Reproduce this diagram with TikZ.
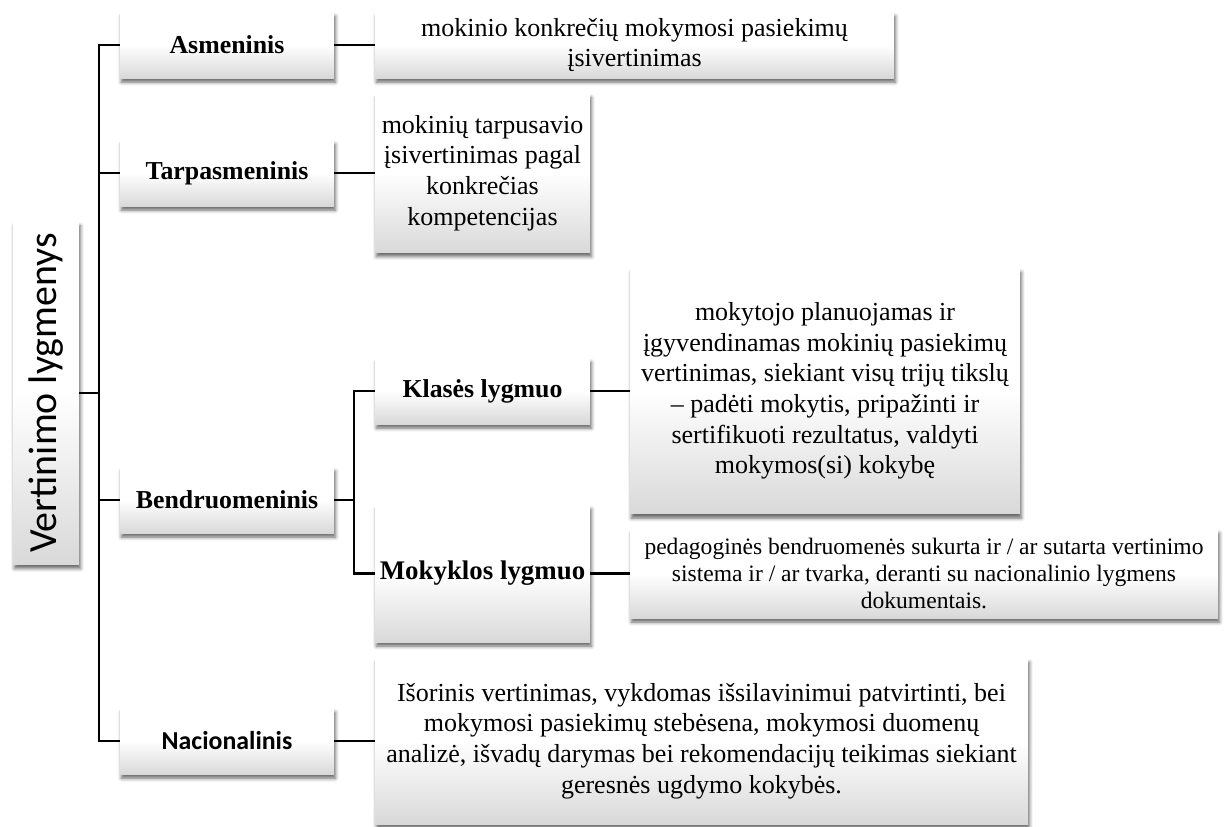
\documentclass[tikz,border=0pt]{standalone}
\usepackage{fontspec}
\setmainfont{Liberation Serif}
\newfontfamily\calibri{Carlito}
\usetikzlibrary{shadows.blur}

\begin{document}
\begin{tikzpicture}[x=0.02cm, y=-0.02cm]
	\tikzset{dez/.style={top color=white, bottom color=black!15, middle color=white, inner sep=1pt, align=center,
		blur shadow={shadow xshift=0.8pt, shadow yshift=-2.4pt, shadow blur radius=2pt, shadow opacity=60}},
		lvl/.style={dez, minimum width=4.28cm, minimum height=1.32cm, font=\fontsize{14.7}{17}\selectfont\bfseries},
		txt/.style={dez, font=\fontsize{14.8}{17.4}\selectfont},
		linija/.style={line width=1.4pt}};

	\useasboundingbox (0,0) rectangle (1226,826);

	\node[dez, minimum width=1.32cm, minimum height=6.86cm] (root) at (46,393)
		{\rotatebox{90}{\calibri\fontsize{22.7}{26}\selectfont Vertinimo lygmenys}};

	\foreach \name/\y/\tekstas in {asm/45/Asmeninis, tarp/173/Tarpasmeninis, bendr/500/Bendruomeninis}{
		\node[lvl] (\name) at (227,\y) {\tekstas};
	}
	\node[lvl, font=\calibri\fontsize{14.7}{17}\selectfont\bfseries] (nac) at (227,741) {Nacionalinis};

	\node[lvl, minimum width=4.3cm] (klas) at (482.5,391) {Klasės lygmuo};
	\node[lvl, minimum width=4.3cm, minimum height=2.74cm, font=\fontsize{15.3}{17}\selectfont\bfseries] (mok) at (482.5,573.5) {Mokyklos lygmuo};

	\node[txt, minimum width=10.38cm, minimum height=1.32cm] (d-asm) at (634.5,45)
		{mokinio konkrečių mokymosi pasiekimų\\ įsivertinimas};
	\node[txt, minimum width=4.3cm, minimum height=3.18cm] (d-tarp) at (482.5,173)
		{mokinių tarpusavio\\ įsivertinimas pagal\\ konkrečias\\ kompetencijas};
	\node[txt, minimum width=7.8cm, minimum height=4.92cm] (d-klas) at (825,391)
		{mokytojo planuojamas ir\\ įgyvendinamas mokinių pasiekimų\\ vertinimas, siekiant visų trijų tikslų\\
		 – padėti mokytis, pripažinti ir\\ sertifikuoti rezultatus, valdyti\\ mokymos(si) kokybę};
	\node[txt, minimum width=11.76cm, minimum height=1.78cm, font=\fontsize{13.4}{15.4}\selectfont] (d-mok) at (924,573.5)
		{pedagoginės bendruomenės sukurta ir / ar sutarta vertinimo\\ sistema ir / ar tvarka, deranti su nacionalinio lygmens\\ dokumentais.};
	\node[txt, minimum width=13.06cm, minimum height=3.32cm] (d-nac) at (701.5,741)
		{Išorinis vertinimas, vykdomas išsilavinimui patvirtinti, bei\\ mokymosi pasiekimų stebėsena, mokymosi duomenų\\
		 analizė, išvadų darymas bei rekomendacijų teikimas siekiant\\ geresnės ugdymo kokybės.};

	\coordinate (kam) at (99,0);
	\coordinate (sak) at (354,0);

	\draw[linija] (asm.west) -| (kam |- nac.west) -- (nac.west);
	\foreach \n in {root.east, tarp.west, bendr.west}
		\draw[linija] (\n) -- (kam |- \n);
	\draw[linija] (bendr.east) -- (sak |- bendr.east);
	\draw[linija] (klas.west) -| (sak |- mok.west) -- (mok.west);
	\foreach \n in {asm, tarp, klas, mok, nac}
		\draw[linija] (\n.east) -- (d-\n.west);
\end{tikzpicture}
\end{document}
